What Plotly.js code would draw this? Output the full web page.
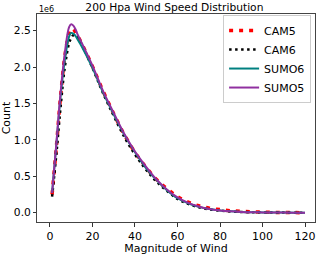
<!DOCTYPE html>
<html>
<head>
<meta charset="utf-8">
<script src="https://cdn.plot.ly/plotly-3.0.1.min.js"></script>
<style>html,body{margin:0;padding:0;background:#fff;}#chart{width:320px;height:255px;}</style>
</head>
<body>
<div id="chart"></div>
<script>
// Wind speed magnitude (x) and counts (in units of 1e6)
const windX = [1, 3, 5, 7, 9, 10, 11, 12, 13, 15, 20, 25, 30, 35, 40, 45, 50, 55, 60, 65, 70, 75, 80, 85, 90, 95, 100, 105, 110, 115, 120];
const cam5  = [0.25, 0.90, 1.60, 2.15, 2.47, 2.53, 2.52, 2.48, 2.43, 2.32, 2.01, 1.67, 1.36, 1.07, 0.83, 0.63, 0.46, 0.33, 0.22, 0.145, 0.095, 0.062, 0.042, 0.027, 0.018, 0.011, 0.007, 0.004, 0.002, 0.001, 0.0005];
const cam6  = [0.22, 0.80, 1.45, 2.00, 2.33, 2.40, 2.44, 2.44, 2.41, 2.31, 1.99, 1.64, 1.33, 1.04, 0.80, 0.60, 0.43, 0.30, 0.19, 0.12, 0.075, 0.045, 0.028, 0.017, 0.010, 0.006, 0.004, 0.002, 0.001, 0.0005, 0.0003];
const sumo6 = [0.27, 0.93, 1.60, 2.10, 2.42, 2.47, 2.46, 2.43, 2.38, 2.28, 1.99, 1.65, 1.35, 1.07, 0.83, 0.62, 0.45, 0.31, 0.20, 0.13, 0.08, 0.05, 0.03, 0.018, 0.010, 0.006, 0.004, 0.002, 0.001, 0.0005, 0.0003];
const sumo5 = [0.27, 0.95, 1.65, 2.20, 2.55, 2.59, 2.57, 2.52, 2.45, 2.33, 2.02, 1.67, 1.37, 1.08, 0.84, 0.64, 0.46, 0.32, 0.21, 0.135, 0.085, 0.05, 0.03, 0.018, 0.010, 0.006, 0.004, 0.002, 0.001, 0.0005, 0.0003];
const scale = 1e6;
const yTickVals = [0, 0.5, 1.0, 1.5, 2.0, 2.5];
const yTickText = ["0.0", "0.5", "1.0", "1.5", "2.0", "2.5"];
const xTickVals = [0, 20, 40, 60, 80, 100, 120];

const s = arr => arr.map(v => v * scale);
const traces = [
  {x: windX, y: s(cam5), name: 'CAM5', mode: 'lines', line: {color: '#ff0000', width: 3.5, dash: '4px,6px', shape: 'spline'}},
  {x: windX, y: s(cam6), name: 'CAM6', mode: 'lines', line: {color: '#000000', width: 2.5, dash: '2.5px,3.5px', shape: 'spline'}},
  {x: windX, y: s(sumo6), name: 'SUMO6', mode: 'lines', line: {color: '#008080', width: 2, shape: 'spline'}},
  {x: windX, y: s(sumo5), name: 'SUMO5', mode: 'lines', line: {color: '#9030a0', width: 2, shape: 'spline'}}
];
const font = {family: 'DejaVu Sans', size: 11, color: '#000'};
const layout = {
  width: 320, height: 255,
  margin: {l: 37, r: 5, t: 14, b: 33},
  paper_bgcolor: '#fff', plot_bgcolor: '#fff',
  font: font,
  title: {text: '200 Hpa Wind Speed Distribution', font: {family: 'DejaVu Sans', size: 10.7, color: '#000'}, x: 0.545, xanchor: 'center', y: 0.985, yanchor: 'top'},
  xaxis: {
    range: [-6.1, 124.7], tickvals: xTickVals, ticks: 'outside', ticklen: 3.5, tickcolor: '#333',
    showgrid: false, zeroline: false, showline: true, linecolor: '#444', linewidth: 1, mirror: true,
    title: {text: 'Magnitude of Wind', font: font, standoff: 2}, tickfont: font
  },
  yaxis: {
    range: [-0.128e6, 2.73e6], tickvals: s(yTickVals), ticktext: yTickText, ticks: 'outside', ticklen: 3, tickcolor: '#333',
    showgrid: false, zeroline: false, showline: true, linecolor: '#444', linewidth: 1, mirror: true,
    title: {text: 'Count', font: font, standoff: 4}, tickfont: {family: 'DejaVu Sans', size: 10.7, color: '#000'}
  },
  legend: {
    x: 0.986, y: 0.995, xanchor: 'right', yanchor: 'top', itemwidth: 30,
    bgcolor: '#fff', bordercolor: '#ccc', borderwidth: 1, font: {family: 'DejaVu Sans', size: 11, color: '#000'},
    tracegroupgap: 0
  },
  annotations: [{text: '1e6', xref: 'paper', yref: 'paper', x: 0, y: 1, xanchor: 'left', yanchor: 'bottom', showarrow: false, font: {family: 'DejaVu Sans', size: 8, color: '#000'}, yshift: -2}],
  showlegend: true
};
Plotly.newPlot('chart', traces, layout, {staticPlot: true, displayModeBar: false});
</script>
</body>
</html>
